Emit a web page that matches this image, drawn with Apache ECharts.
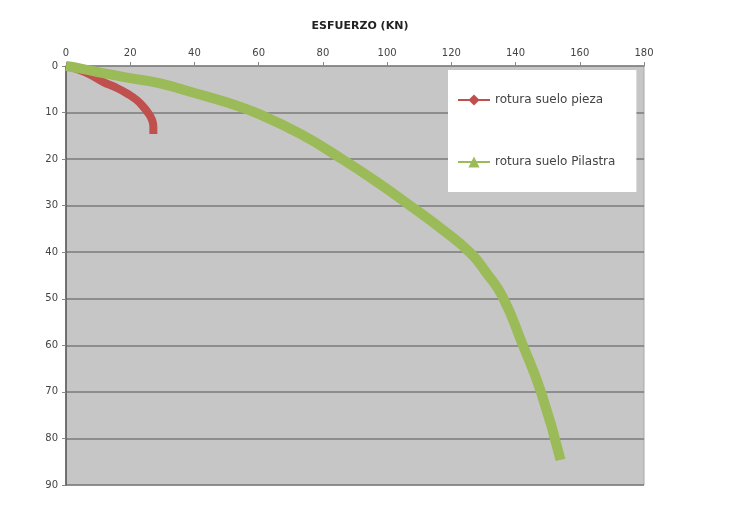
<!DOCTYPE html>
<html>
<head>
<meta charset="utf-8">
<script src="https://cdn.jsdelivr.net/npm/echarts@6/dist/echarts.min.js"></script>
<style>html,body{margin:0;padding:0;background:#fff}#c{width:754px;height:508px}</style>
</head>
<body>
<div id="c"></div>
<script>
// Series data: x = esfuerzo (KN), y = profundidad
var piezaX = [0, 4, 8, 11.5, 15.5, 19, 22, 24, 25.7, 26.8, 27.2, 27.2];
var piezaY = [0, 0.8, 2, 3.4, 4.6, 5.9, 7.3, 8.7, 10.2, 11.6, 13, 14.6];
var pilastraX = [0, 5, 12, 20, 29, 40, 50, 60, 73, 86, 97, 107, 117, 126, 131, 136, 142, 148, 154];
var pilastraY = [0, 0.6, 1.6, 2.6, 3.7, 5.8, 7.8, 10.3, 14.6, 20, 25, 29.9, 35, 40.2, 44.5, 49.6, 59.5, 70.2, 84.6];
var seriesNames = ['rotura suelo pieza', 'rotura suelo Pilastra'];
var xTicks = [0, 20, 40, 60, 80, 100, 120, 140, 160, 180];
var yTicks = [0, 10, 20, 30, 40, 50, 60, 70, 80, 90];

function pairs(xs, ys) { return xs.map(function (x, i) { return [x, ys[i]]; }); }

var chart = echarts.init(document.getElementById('c'));
chart.setOption({
  animation: false,
  backgroundColor: '#ffffff',
  title: {
    text: 'ESFUERZO (KN)',
    left: 355, top: 16, textAlign: 'center',
    textStyle: { fontFamily: 'DejaVu Sans', fontSize: 11, fontWeight: 'bold', color: '#222' }
  },
  grid: {
    left: 66, right: 110, top: 66, bottom: 23,
    show: true, backgroundColor: '#c6c6c6', borderColor: '#a8a8a8', borderWidth: 1
  },
  legend: {
    orient: 'vertical',
    left: 448, top: 70,
    backgroundColor: '#ffffff',
    padding: [24, 21, 24, 9],
    itemGap: 50, itemWidth: 32, itemHeight: 14,
    textStyle: { fontFamily: 'DejaVu Sans', fontSize: 12, color: '#444' },
    data: seriesNames
  },
  xAxis: {
    type: 'value', position: 'top',
    min: xTicks[0], max: xTicks[xTicks.length - 1], interval: 20,
    axisLine: { show: true, lineStyle: { color: '#888' } },
    axisTick: { show: true, length: 4, lineStyle: { color: '#888' } },
    axisLabel: { fontFamily: 'DejaVu Sans', fontSize: 10, color: '#444', margin: 8 },
    splitLine: { show: false }
  },
  yAxis: {
    type: 'value', inverse: true,
    min: yTicks[0], max: yTicks[yTicks.length - 1], interval: 10,
    axisLine: { show: true, lineStyle: { color: '#555', width: 1.5 } },
    axisTick: { show: true, length: 4, lineStyle: { color: '#888' } },
    axisLabel: { fontFamily: 'DejaVu Sans', fontSize: 10, color: '#444', margin: 8 },
    splitLine: { show: true, lineStyle: { color: '#7a7a7a', width: 1.5 } }
  },
  series: [
    {
      name: seriesNames[0], type: 'line', smooth: true,
      data: pairs(piezaX, piezaY),
      symbol: 'diamond', symbolSize: 7, showSymbol: false,
      lineStyle: { color: '#c0504d', width: 8 },
      itemStyle: { color: '#c0504d' }
    },
    {
      name: seriesNames[1], type: 'line', smooth: true,
      data: pairs(pilastraX, pilastraY),
      symbol: 'triangle', symbolSize: 7, showSymbol: false,
      lineStyle: { color: '#9bbb59', width: 10 },
      itemStyle: { color: '#9bbb59' }
    }
  ]
});
</script>
</body>
</html>
